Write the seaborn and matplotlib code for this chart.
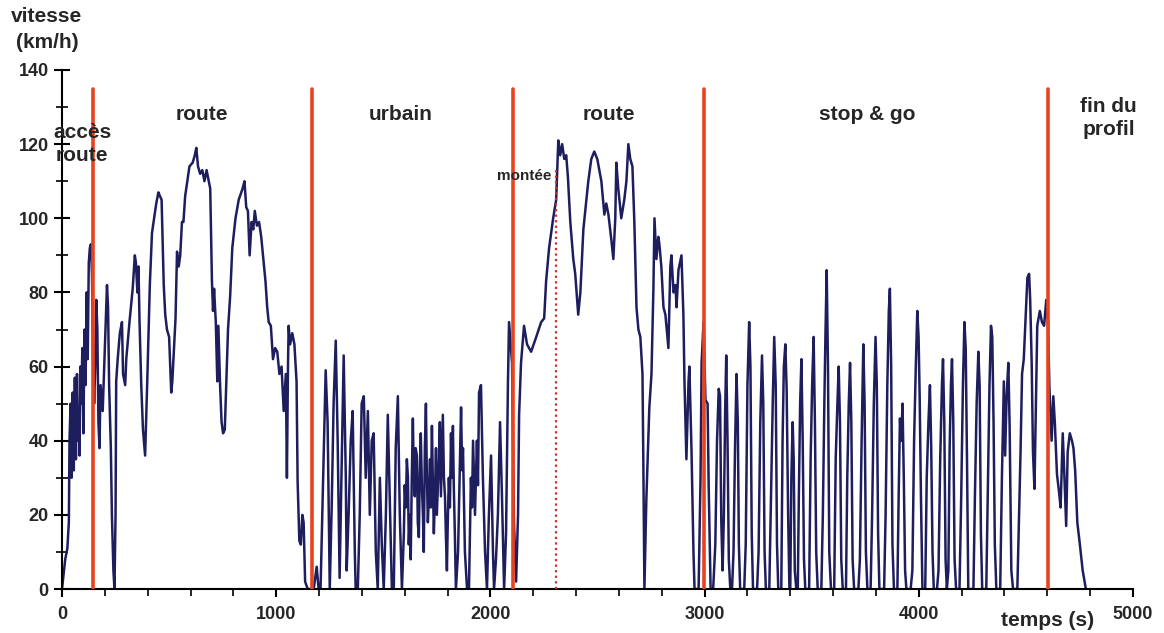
import matplotlib
matplotlib.use("Agg")
import matplotlib.pyplot as plt
import matplotlib.ticker as mticker
import pandas as pd
import seaborn as sns

# speed profile, (time s, speed km/h)
acces_route = [(0, 0), (15, 8), (25, 11), (32, 18), (35, 40), (40, 50), (45, 30), (50, 53),
               (55, 32), (60, 57), (65, 35), (70, 58), (75, 40), (78, 48), (82, 36), (86, 60),
               (90, 50), (95, 65), (100, 42), (105, 70), (110, 55), (115, 80), (120, 62),
               (125, 88), (130, 92), (135, 93), (140, 85)]

route_1 = [(145, 62), (150, 50), (155, 60), (160, 78), (165, 70), (170, 45), (175, 38),
           (180, 55), (190, 48), (200, 65), (210, 82), (215, 76), (220, 55), (228, 38),
           (233, 20), (240, 5), (245, 0), (250, 20), (253, 56), (260, 62), (270, 69),
           (280, 72), (285, 58), (295, 55), (300, 62), (315, 72), (330, 81), (340, 90),
           (345, 88), (352, 80), (357, 87), (362, 72), (370, 55), (378, 43), (388, 36),
           (398, 56), (410, 82), (420, 96), (430, 100), (440, 104), (450, 107), (457, 106),
           (465, 105), (475, 82), (482, 74), (490, 70), (500, 68), (510, 53), (515, 56),
           (522, 64), (530, 73), (537, 91), (545, 87), (552, 90), (560, 99), (567, 99),
           (575, 106), (585, 110), (595, 114), (610, 115), (620, 117), (627, 119), (635, 114),
           (645, 112), (655, 113), (665, 110), (675, 113), (685, 110), (692, 108), (700, 83),
           (705, 75), (710, 81), (718, 72), (725, 56), (730, 71), (738, 55), (745, 45),
           (752, 42), (760, 43), (767, 56), (775, 70), (785, 79), (795, 92), (810, 100),
           (825, 105), (843, 108), (852, 110), (860, 103), (868, 102), (876, 90), (885, 99),
           (893, 97), (900, 102), (910, 98), (920, 99), (930, 95), (940, 89), (950, 83),
           (958, 76), (965, 72), (975, 71), (985, 62), (995, 65), (1005, 64), (1015, 58),
           (1025, 60), (1035, 48), (1045, 58), (1050, 30), (1055, 60), (1058, 71), (1065, 66),
           (1075, 69), (1085, 66), (1095, 56), (1100, 29), (1108, 13), (1115, 12), (1122, 20),
           (1128, 18), (1135, 2), (1147, 0)]

urbain = [(1175, 0), (1189, 6), (1198, 0), (1207, 0), (1217, 25), (1231, 59), (1240, 45),
          (1250, 0), (1259, 22), (1268, 50), (1278, 67), (1287, 40), (1296, 3), (1306, 35),
          (1315, 63), (1325, 30), (1329, 5), (1338, 20), (1348, 40), (1357, 48), (1367, 10),
          (1371, 0), (1381, 0), (1390, 20), (1399, 50), (1409, 52), (1418, 30), (1428, 48),
          (1437, 20), (1446, 40), (1455, 42), (1465, 10), (1474, 0), (1484, 30), (1493, 12),
          (1502, 0), (1512, 20), (1521, 47), (1530, 25), (1540, 0), (1549, 0), (1558, 38),
          (1568, 52), (1577, 20), (1587, 0), (1592, 8), (1596, 15), (1600, 28), (1605, 22),
          (1610, 35), (1615, 30), (1619, 12), (1624, 20), (1628, 8), (1633, 30), (1638, 46),
          (1642, 32), (1647, 25), (1651, 38), (1657, 36), (1661, 18), (1666, 14), (1670, 30),
          (1675, 42), (1680, 28), (1685, 20), (1689, 10), (1694, 38), (1699, 50), (1703, 32),
          (1708, 18), (1713, 25), (1718, 35), (1722, 22), (1727, 44), (1731, 30), (1736, 15),
          (1741, 25), (1746, 38), (1750, 20), (1755, 28), (1760, 36), (1764, 45), (1769, 25),
          (1773, 35), (1778, 47), (1783, 30), (1788, 25), (1792, 15), (1797, 5), (1801, 18),
          (1806, 30), (1811, 22), (1816, 42), (1820, 30), (1825, 44), (1829, 28), (1834, 15),
          (1839, 0), (1849, 10), (1856, 30), (1863, 49), (1868, 32), (1872, 38), (1881, 10),
          (1891, 0), (1900, 0), (1909, 30), (1914, 22), (1919, 40), (1928, 20), (1937, 40),
          (1942, 28), (1947, 53), (1956, 55), (1965, 30), (1975, 10), (1984, 0), (1993, 20),
          (2003, 36), (2012, 10), (2017, 0), (2026, 8), (2035, 20), (2045, 45), (2054, 25),
          (2064, 0), (2073, 15), (2082, 56), (2087, 72), (2096, 65), (2101, 61)]

route_2 = [(2110, 18), (2120, 2), (2129, 20), (2134, 47), (2143, 61), (2157, 71), (2171, 66),
           (2190, 64), (2214, 68), (2237, 72), (2251, 73), (2260, 83), (2274, 92), (2293, 100),
           (2307, 105), (2317, 121), (2326, 117), (2335, 120), (2345, 116), (2354, 117),
           (2362, 111), (2373, 99), (2387, 89), (2396, 85), (2410, 74), (2420, 80), (2434, 97),
           (2448, 105), (2457, 110), (2471, 116), (2485, 118), (2499, 116), (2518, 110),
           (2532, 101), (2541, 104), (2551, 101), (2565, 94), (2574, 89), (2583, 100),
           (2588, 115), (2597, 108), (2611, 100), (2625, 105), (2635, 110), (2644, 120),
           (2653, 116), (2663, 114), (2672, 99), (2682, 76), (2691, 70), (2700, 68), (2710, 58),
           (2714, 34), (2719, 0), (2728, 24), (2733, 33), (2742, 49), (2752, 58), (2761, 81),
           (2766, 100), (2775, 89), (2784, 95), (2789, 93), (2798, 87), (2808, 76), (2817, 74),
           (2831, 65), (2840, 87), (2845, 90), (2855, 80), (2864, 82), (2869, 76), (2878, 86),
           (2892, 90), (2901, 74), (2906, 56), (2915, 35), (2925, 56), (2929, 60), (2939, 37),
           (2948, 10), (2953, 0), (2972, 0), (2981, 30), (2986, 61)]

stop_and_go = [(2995, 72), (3004, 51), (3014, 50), (3019, 28), (3028, 0), (3040, 0), (3050, 12),
               (3058, 40), (3066, 54), (3072, 52), (3078, 18), (3084, 5), (3090, 20), (3096, 48),
               (3101, 63), (3107, 40), (3113, 8), (3120, 0), (3128, 0), (3135, 10), (3142, 38),
               (3149, 58), (3155, 45), (3160, 12), (3166, 0), (3185, 0), (3192, 12), (3200, 55),
               (3208, 72), (3214, 60), (3220, 15), (3226, 0), (3245, 0), (3252, 10), (3260, 45),
               (3268, 63), (3274, 50), (3280, 10), (3286, 0), (3302, 0), (3310, 25), (3318, 50),
               (3325, 68), (3332, 55), (3338, 12), (3344, 0), (3358, 0), (3364, 40), (3370, 60),
               (3377, 66), (3383, 54), (3390, 20), (3396, 0), (3400, 0), (3405, 30), (3411, 45),
               (3416, 35), (3421, 5), (3428, 0), (3435, 0), (3440, 25), (3446, 50), (3452, 62),
               (3458, 40), (3464, 8), (3470, 0), (3488, 0), (3495, 35), (3502, 55), (3509, 68),
               (3515, 45), (3521, 10), (3528, 0), (3545, 0), (3552, 20), (3559, 50), (3564, 68),
               (3570, 86), (3576, 60), (3582, 10), (3590, 0), (3605, 0), (3612, 35), (3620, 50),
               (3626, 60), (3632, 45), (3638, 8), (3645, 0), (3660, 0), (3666, 30), (3673, 50),
               (3679, 61), (3685, 45), (3691, 8), (3698, 0), (3718, 0), (3725, 8), (3733, 40),
               (3741, 66), (3747, 50), (3753, 10), (3760, 0), (3775, 0), (3782, 20), (3790, 50),
               (3798, 68), (3804, 55), (3810, 15), (3816, 0), (3838, 0), (3845, 20), (3853, 55),
               (3860, 75), (3865, 81), (3871, 60), (3877, 12), (3884, 0), (3900, 0), (3906, 25),
               (3912, 46), (3918, 40), (3924, 50), (3930, 30), (3936, 5), (3942, 0), (3962, 0),
               (3970, 5), (3978, 40), (3986, 60), (3993, 75), (3999, 68), (4004, 52), (4010, 25),
               (4017, 0), (4030, 0), (4037, 30), (4045, 45), (4052, 55), (4058, 38), (4064, 10),
               (4070, 0), (4085, 0), (4092, 5), (4100, 35), (4108, 55), (4113, 62), (4119, 45),
               (4125, 8), (4131, 0), (4138, 5), (4144, 38), (4150, 55), (4155, 62), (4161, 45),
               (4167, 8), (4174, 0), (4190, 0), (4198, 25), (4206, 55), (4213, 72), (4219, 65),
               (4225, 35), (4231, 0), (4255, 0), (4262, 25), (4270, 50), (4278, 64), (4284, 55),
               (4290, 15), (4296, 0), (4315, 0), (4322, 25), (4330, 55), (4337, 71), (4343, 68),
               (4349, 45), (4355, 12), (4362, 0), (4380, 0), (4388, 30), (4397, 56), (4403, 36),
               (4410, 52), (4418, 61), (4424, 44), (4432, 5), (4440, 0), (4460, 0), (4475, 37),
               (4482, 58), (4490, 62), (4500, 75), (4507, 84), (4515, 85), (4520, 78), (4527, 61),
               (4533, 37), (4540, 27), (4548, 55), (4553, 71), (4565, 75), (4575, 72), (4585, 71),
               (4595, 78)]

fin_profil = [(4603, 72), (4610, 54), (4620, 40), (4628, 52), (4635, 45), (4645, 31), (4655, 26),
              (4662, 22), (4672, 42), (4680, 30), (4688, 17), (4695, 37), (4705, 42), (4715, 40),
              (4722, 38), (4730, 32), (4740, 18), (4752, 12), (4765, 5), (4780, 0)]

phase_limits = [145, 1168, 2107, 2995, 4603]
phase_names = ["accès\nroute", "route", "urbain", "route", "stop & go", "fin du\nprofil"]
phase_label_x = [94, 655, 1582, 2551, 3758, 4886]
phase_label_y = [120, 128, 128, 128, 128, 127]
montee_t = 2304
montee_v = 113

rows = acces_route + route_1 + urbain + route_2 + stop_and_go + fin_profil
df = pd.DataFrame(rows, columns=["temps", "vitesse"])

sns.set_style("ticks")
plt.rcParams["font.family"] = ["Liberation Sans", "DejaVu Sans"]
plt.rcParams["font.weight"] = "bold"

fig = plt.figure(figsize=(11.64, 6.33), dpi=100)
ax = fig.add_axes([62 / 1164, 1 - 589 / 633, (1133 - 62) / 1164, (589 - 70) / 633])

sns.lineplot(data=df, x="temps", y="vitesse", ax=ax, color="#1e1e5e", linewidth=1.8,
             estimator=None, sort=False)

for t in phase_limits:
    ax.plot([t, t], [0, 135], color="#e8431f", linewidth=2.6, zorder=3)
ax.plot([montee_t, montee_t], [0, montee_v], color="#c8302a", linewidth=1.6,
        linestyle=(0, (1, 1.5)), zorder=3)

for name, x, y in zip(phase_names, phase_label_x, phase_label_y):
    ax.text(x, y, name, ha="center", va="center", fontsize=15, fontweight="bold",
            linespacing=1.3)
ax.text(2157, 111.5, "montée", ha="center", va="center", fontsize=11, fontweight="bold")

ax.set_xlim(0, 5000)
ax.set_ylim(0, 140)
ax.xaxis.set_major_locator(mticker.MultipleLocator(1000))
ax.xaxis.set_minor_locator(mticker.MultipleLocator(200))
ax.yaxis.set_major_locator(mticker.MultipleLocator(20))
ax.yaxis.set_minor_locator(mticker.MultipleLocator(10))
ax.tick_params(axis="x", which="both", bottom=True, color="black")
ax.tick_params(axis="y", which="both", left=True, color="black")
ax.tick_params(axis="x", which="major", direction="out", length=6, width=1.5, labelsize=13,
               pad=6)
ax.tick_params(axis="x", which="minor", direction="out", length=5, width=1.2)
ax.tick_params(axis="y", which="major", direction="inout", length=11, width=1.5, labelsize=13,
               pad=4)
ax.tick_params(axis="y", which="minor", direction="inout", length=9, width=1.2)
for lab in ax.get_xticklabels() + ax.get_yticklabels():
    lab.set_fontweight("bold")

sns.despine(ax=ax)
ax.spines["left"].set_linewidth(1.5)
ax.spines["bottom"].set_linewidth(1.5)
ax.spines["left"].set_color("black")
ax.spines["bottom"].set_color("black")
ax.set_xlabel("")
ax.set_ylabel("")
ax.text(0.92, -0.06, "temps (s)", transform=ax.transAxes, ha="center", va="center",
        fontsize=15, fontweight="bold")
ax.text(-0.014, 1.078, "vitesse\n(km/h)", transform=ax.transAxes, ha="center", va="center",
        fontsize=15, fontweight="bold", linespacing=1.5)

fig.savefig("out.png", dpi=100)
